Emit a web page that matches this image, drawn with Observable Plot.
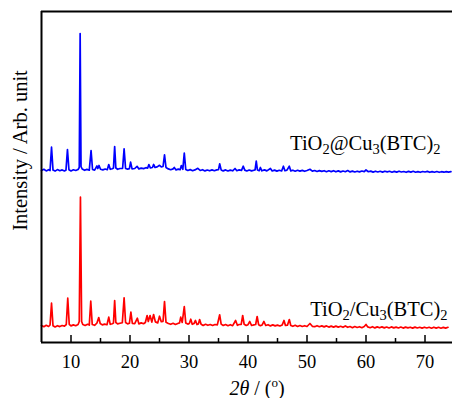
<!DOCTYPE html>
<html><head><meta charset="utf-8">
<script src="https://cdn.jsdelivr.net/npm/d3@7"></script>
<script src="https://cdn.jsdelivr.net/npm/@observablehq/plot@0.6"></script>
<style>html,body{margin:0;padding:0;background:#fff}#chart{width:452px;height:398px}</style>
</head><body><div id="chart"></div>
<script>
// 2θ (degrees) and intensity (arb. unit, offset traces)
const blueTheta = [5.0,5.4,5.8,6.2,6.45,6.7,6.95,7.3,7.7,8.1,8.5,8.9,9.15,9.4,9.65,10.0,10.4,10.8,11.2,11.4,11.55,11.7,11.9,12.3,12.7,13.1,13.4,13.65,14.0,14.4,14.55,14.75,15.0,15.4,15.8,16.15,16.4,16.65,17.0,17.2,17.4,17.6,17.9,18.3,18.75,19.0,19.25,19.6,19.9,20.1,20.35,20.8,21.2,21.5,21.9,22.3,22.7,23.0,23.2,23.45,23.8,24.0,24.25,24.6,25.0,25.3,25.6,25.85,26.1,26.5,26.9,27.3,27.5,27.8,28.2,28.5,28.7,28.95,29.2,29.45,29.8,30.2,30.6,31.0,31.5,31.9,32.3,32.7,33.1,33.5,33.9,34.3,34.7,35.0,35.2,35.45,35.8,36.2,36.6,37.0,37.4,37.8,38.1,38.5,38.9,39.2,39.45,39.8,40.2,40.6,41.0,41.2,41.4,41.6,41.9,42.1,42.35,42.8,43.2,43.8,44.1,44.5,44.9,45.3,45.7,46.0,46.25,46.6,47.0,47.25,47.6,48.0,48.4,48.8,49.2,49.6,50.0,50.5,50.9,51.3,51.7,52.1,52.5,52.9,53.3,53.7,54.1,54.5,54.9,55.3,55.7,56.1,56.5,56.9,57.3,57.7,58.1,58.5,58.9,59.3,59.7,60.0,60.4,60.8,61.2,61.6,62.0,62.4,62.8,63.2,63.6,64.0,64.4,64.8,65.2,65.6,66.0,66.4,66.8,67.2,67.6,68.0,68.4,68.8,69.2,69.6,70.0,70.4,70.8,71.2,71.6,72.0,72.4,72.8,73.2,73.6,74.0,74.4,74.7];
const blueIntensity = [172.0,173.2,171.6,172.8,172.0,195.3,172.4,171.4,172.9,171.8,172.6,171.5,172.4,193.0,172.8,171.6,172.7,172.0,173.0,175,309,176,173.5,172.2,173.1,172.3,192.0,173.0,172.4,176.5,174,177,173.2,172.6,173.5,172.8,178.0,173.2,173.8,174.5,196,174.5,173.2,174.0,174.2,193.7,174.0,173.4,173.8,180.3,173.6,174.0,176.2,173.6,174.4,173.9,174.8,174.4,178,174.6,175.0,178,175.0,175.6,177.2,175.6,176.0,187.7,175.0,173.6,172.8,173.6,175.0,172.6,173.4,172.8,177,173.2,189.3,173.0,172.0,172.9,171.8,172.6,174.2,172.0,172.8,171.6,172.5,171.7,172.6,171.8,172.6,172.8,178.7,172.6,171.6,172.6,171.5,172.4,171.7,174.0,171.8,172.6,172.2,176.3,172.4,171.5,172.5,171.6,172.3,172.6,181.3,172.5,171.8,175,171.7,172.6,171.6,174.0,171.5,172.4,171.4,172.2,171.5,176.3,171.8,172.4,176.3,171.6,172.3,171.3,172.2,171.4,172.1,171.2,172.0,173.2,171.4,172.0,171.0,171.9,171.1,171.8,170.8,171.7,170.9,171.8,170.7,171.6,170.6,171.5,170.8,171.9,170.6,171.4,170.5,171.3,170.6,171.5,170.9,172.5,170.8,171.4,170.4,171.3,170.5,171.2,170.4,171.3,170.6,171.2,170.3,171.1,170.4,171.3,170.5,171.0,170.2,171.1,170.4,171.2,170.3,170.9,170.2,171.0,170.5,171.1,170.2,170.9,170.3,171.0,170.2,170.8,170.3,170.9,170.4,170.8];
const redTheta = [5.0,5.4,5.8,6.2,6.45,6.7,6.95,7.3,7.7,8.1,8.5,8.9,9.2,9.45,9.7,10.0,10.4,10.8,11.2,11.4,11.6,11.8,12.0,12.4,12.8,13.1,13.35,13.6,14.0,14.4,14.7,14.95,15.3,15.7,16.1,16.4,16.65,17.0,17.2,17.4,17.6,17.9,18.3,18.7,19.0,19.25,19.6,19.9,20.15,20.4,20.8,21.25,21.5,21.9,22.3,22.6,22.9,23.1,23.4,23.7,24.0,24.3,24.7,25.0,25.3,25.6,25.85,26.1,26.5,26.9,27.3,27.7,28.1,28.4,28.6,28.85,29.2,29.45,29.8,30.05,30.3,30.55,30.85,31.1,31.35,31.6,31.8,32.05,32.4,32.8,33.2,33.6,34.0,34.4,34.8,35.2,35.45,35.8,36.2,36.6,37.0,37.4,37.9,38.2,38.5,38.85,39.1,39.35,39.7,40.0,40.3,40.6,41.0,41.3,41.55,41.8,42.1,42.4,42.7,43.0,43.4,43.8,44.2,44.6,45.0,45.4,45.8,46.1,46.35,46.7,47.0,47.25,47.6,48.0,48.4,48.8,49.2,49.6,50.0,50.5,50.9,51.3,51.7,52.1,52.5,52.9,53.3,53.7,54.1,54.5,54.9,55.3,55.7,56.1,56.5,56.9,57.3,57.7,58.1,58.5,58.9,59.3,59.7,60.0,60.3,60.7,61.1,61.5,61.9,62.3,62.7,63.1,63.5,63.9,64.3,64.7,65.1,65.5,65.9,66.3,66.7,67.1,67.5,67.9,68.3,68.7,69.1,69.5,69.9,70.3,70.7,71.1,71.5,71.9,72.3,72.7,73.1,73.5,73.9,74.3,74.7];
const redIntensity = [17.0,15.8,17.2,16.0,17.5,39.3,16.8,15.6,16.8,15.9,17.0,16.4,18.0,44.3,18.2,16.6,17.6,16.8,18.0,21,145.3,21,18.0,17.0,18.2,17.4,41.3,18.0,17.2,19.5,25,19.0,17.6,18.4,17.8,25.3,18.2,18.8,19.5,42,20,18.6,19.2,19.8,44.7,20,18.6,19.2,30.3,19.0,18.8,24.3,18.6,19.6,18.8,20.0,27,21,27,20.4,28,20.6,19.6,26.3,20.8,21.2,41,20.2,19.0,18.2,19.2,18.0,19.0,19.6,25.3,20,36,19.6,18.4,19,23.3,18.2,19.0,22,18.0,18.6,23,18.2,17.0,18.2,17.2,18.0,17.0,18.0,17.6,27.7,18.4,17.0,18.0,16.8,17.8,16.8,22,17.2,18.0,18.2,27,18.2,17.0,17.8,21,17.0,17.6,18,26,17.8,16.8,17.6,21,17.0,17.8,16.6,17.6,16.6,17.4,16.5,17.6,22,17.0,17.4,23,17.0,16.2,17.2,16.0,17.0,16.0,16.8,16.0,19.0,16.2,15.8,16.8,15.8,16.6,15.6,16.6,15.4,16.4,15.4,16.4,15.4,16.2,15.2,16.6,15.2,16.0,14.8,16.0,15.0,15.8,14.8,16.0,18.0,15.6,14.8,15.8,14.6,15.6,14.7,15.6,14.6,15.5,14.5,15.6,14.6,15.4,14.5,15.5,14.4,15.4,14.6,15.3,14.4,15.4,14.5,15.2,14.4,15.3,14.5,15.2,14.3,15.3,14.4,15.2,14.3,15.1,14.4,15.2];
const majorTicks = [10, 20, 30, 40, 50, 60, 70];
const minorTicks = [15, 25, 35, 45, 55, 65];
const xDomain = [5, 74.66];
const yDomain = [0, 331];
const blueLabel = "TiO2@Cu3(BTC)2";
const redLabel = "TiO2/Cu3(BTC)2";
const xTitle = "2θ / (o)";
const yTitle = "Intensity / Arb. unit";

const blueData = blueTheta.map((t, i) => ({t, v: blueIntensity[i]}));
const redData = redTheta.map((t, i) => ({t, v: redIntensity[i]}));

const font = "'Liberation Serif', 'Times New Roman', serif";
const svg = Plot.plot({
  width: 452, height: 398,
  marginLeft: 41, marginRight: 0, marginTop: 11, marginBottom: 56,
  style: {fontFamily: font, background: "#fff", color: "#000"},
  x: {domain: xDomain, axis: null},
  y: {domain: yDomain, axis: null},
  marks: [
    Plot.line(redData, {x: "t", y: "v", stroke: "#ff0000", strokeWidth: 1.7}),
    Plot.line(blueData, {x: "t", y: "v", stroke: "#0000ff", strokeWidth: 1.7}),
    Plot.ruleX([xDomain[0]], {stroke: "#000", strokeWidth: 2}),
    Plot.ruleY(yDomain, {stroke: "#000", strokeWidth: 2}),
    Plot.ruleX(majorTicks, {y1: 0, y2: 7, stroke: "#000", strokeWidth: 1.5}),
    Plot.ruleX(minorTicks, {y1: 0, y2: 4, stroke: "#000", strokeWidth: 1.5}),
    Plot.text(majorTicks, {x: d => d, frameAnchor: "bottom", lineAnchor: "middle", dy: 20, text: d => `${d}`, fontSize: 18.5, fill: "#000"}),
    Plot.text([xTitle], {frameAnchor: "bottom", lineAnchor: "middle", textAnchor: "middle", dx: 10, dy: 46.5, text: d => d, fontSize: 20, fill: "#000"}),
    Plot.text([yTitle], {frameAnchor: "left", lineAnchor: "middle", textAnchor: "middle", dx: -21, dy: -26.5, rotate: -90, text: d => d, fontSize: 20.5, fill: "#000"}),
    Plot.text([blueLabel], {frameAnchor: "top-right", lineAnchor: "middle", textAnchor: "end", dx: -12, dy: 132, text: d => d, fontSize: 20.5, fill: "#000"}),
    Plot.text([redLabel], {frameAnchor: "top-right", lineAnchor: "middle", textAnchor: "end", dx: -5, dy: 297.5, text: d => d, fontSize: 20.5, fill: "#000"})
  ]
});

// rich text: subscripts, superscripts, italics
const rich = {
  [blueLabel]: [["TiO"], ["2", "sub"], ["@Cu"], ["3", "sub"], ["(BTC)"], ["2", "sub"]],
  [redLabel]: [["TiO"], ["2", "sub"], ["/Cu"], ["3", "sub"], ["(BTC)"], ["2", "sub"]],
  [xTitle]: [["2θ", "it"], [" / ("], ["o", "sup"], [")"]]
};
svg.querySelectorAll("text").forEach(el => {
  const parts = rich[el.textContent];
  if (!parts) return;
  while (el.firstChild) el.removeChild(el.firstChild);
  let shift = 0;
  for (const [s, kind] of parts) {
    const ts = document.createElementNS("http://www.w3.org/2000/svg", "tspan");
    let target = 0;
    if (kind === "sub") { ts.setAttribute("font-size", "14.5"); target = 4; }
    if (kind === "sup") { ts.setAttribute("font-size", "13"); target = -8; }
    if (kind === "it") ts.setAttribute("font-style", "italic");
    if (target !== shift) { ts.setAttribute("dy", String(target - shift)); shift = target; }
    ts.textContent = s;
    el.appendChild(ts);
  }
});
document.getElementById("chart").appendChild(svg);
</script>
</body></html>
